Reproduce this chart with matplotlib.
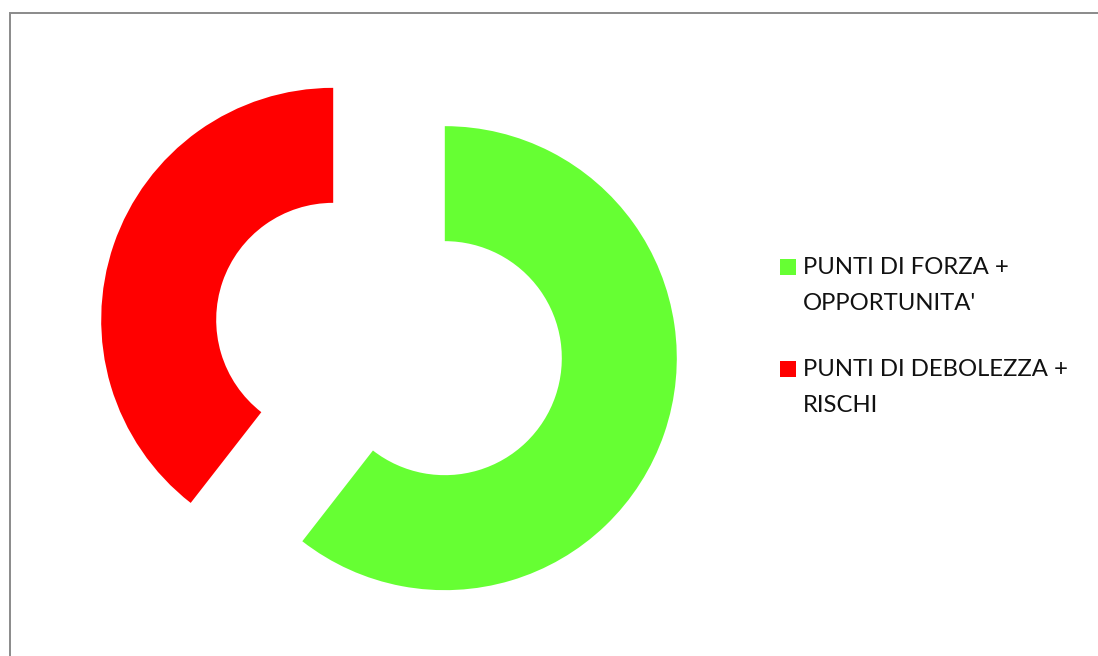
import matplotlib
matplotlib.use("Agg")
import matplotlib.pyplot as plt
from matplotlib.patches import Rectangle

# dati del grafico SWOT
labels = ["PUNTI DI FORZA +\nOPPORTUNITA'", "PUNTI DI DEBOLEZZA +\nRISCHI"]
values = [23, 15]
colors = ["#66FF33", "#FF0000"]

W, H = 1098, 656
plt.rcParams['font.family'] = ['Lato', 'DejaVu Sans']

fig = plt.figure(figsize=(W / 100, H / 100), dpi=100)
ax = fig.add_axes([0, 0, 1, 1])

# ciambella esplosa, hole al 50%
ax.pie(values, colors=colors, startangle=90, counterclock=False,
       radius=232, center=(389, H - 339), explode=[59, 59],
       wedgeprops=dict(width=115, linewidth=0))
ax.set_xlim(0, W)
ax.set_ylim(0, H)
ax.set_aspect('equal')
ax.axis('off')

# cornice dell'area grafico
fig.patches.append(Rectangle((9.5 / W, -0.1), 1.2, (H - 12.5) / H + 0.1,
                             transform=fig.transFigure, fill=False,
                             edgecolor="#8a8a8a", linewidth=1.4))

# legenda a destra
y0 = 274
for lab, col in zip(labels, colors):
    fig.patches.append(Rectangle((780 / W, 1 - (y0 + 1) / H), 16 / W, 16 / H,
                                 transform=fig.transFigure,
                                 facecolor=col, edgecolor='none'))
    for k, line in enumerate(lab.split("\n")):
        fig.text(803 / W, 1 - (y0 + 36 * k) / H, line, fontsize=17.2,
                 color="#111111", ha='left', va='baseline')
    y0 += 102

fig.savefig("out.png", dpi=100)
